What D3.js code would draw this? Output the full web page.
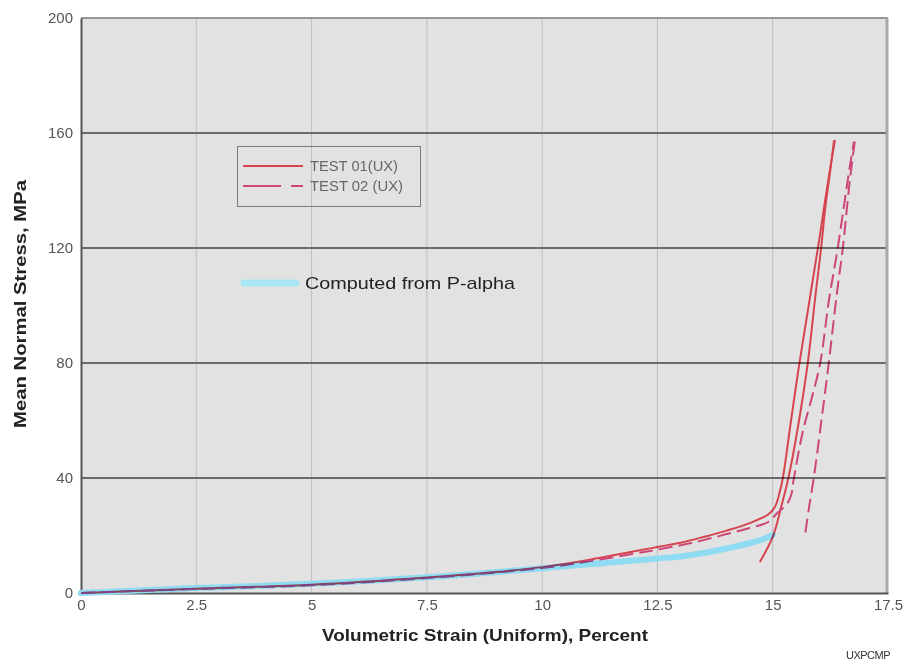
<!DOCTYPE html>
<html>
<head>
<meta charset="utf-8">
<script src="https://cdn.jsdelivr.net/npm/d3@7"></script>
<style>
  html, body { margin: 0; padding: 0; background: #fff; }
  svg { display: block; }
</style>
</head>
<body>
<svg id="chart" width="908" height="664"></svg>
<script>
// Axis ticks
const xTicks = [0, 2.5, 5, 7.5, 10, 12.5, 15, 17.5];
const yTicks = [0, 40, 80, 120, 160, 200];

// TEST 01 (UX): loading branch then unloading branch  [strain %, stress MPa]
const test01Load = [
  [0, 0], [1, 0.6], [2.5, 1.5], [5, 2.9], [7.5, 5.4], [9, 7.3], [10, 9], [11, 11.5],
  [12, 14.5], [12.5, 16], [13, 17.5], [13.5, 19.5], [14, 21.7], [14.5, 24.3],
  [14.9, 27.3], [15.05, 30], [15.15, 35], [15.22, 40], [15.38, 58], [15.56, 78],
  [15.72, 94], [15.88, 110], [16.02, 124], [16.14, 137], [16.25, 148], [16.35, 157.5]
];
const test01Unload = [
  [16.33, 157.5], [16.24, 146], [16.14, 134], [16.05, 120], [15.93, 104],
  [15.76, 80], [15.55, 58], [15.34, 40], [15.2, 31], [15.0, 19.5], [14.72, 10.8]
];

// TEST 02 (UX)
const test02Load = [
  [0, 0], [2.5, 1.4], [5, 2.7], [7.5, 5.2], [10, 8.7], [11, 11], [12, 13.7],
  [12.5, 15.1], [13, 16.6], [13.5, 18.4], [14, 20.5], [14.5, 22.6], [14.9, 24.7],
  [15.1, 27.8], [15.3, 30.8], [15.4, 34], [15.45, 39], [15.65, 56], [15.85, 68],
  [16.03, 80], [16.22, 102], [16.39, 118], [16.54, 134], [16.65, 146], [16.76, 157]
];
const test02Unload = [
  [16.78, 157], [16.69, 146], [16.61, 134], [16.52, 120], [16.39, 104],
  [16.2, 78], [16.04, 58], [15.89, 40], [15.79, 30], [15.7, 20]
];

// Computed from P-alpha
const pAlpha = [
  [0, 0], [2.5, 1.7], [5, 3.2], [7.5, 5.5], [10, 8.6], [11, 10], [12, 11.3],
  [12.5, 12], [13, 12.7], [13.5, 13.9], [14, 15.5], [14.5, 17.3], [14.8, 18.8], [15, 20.2]
];

const legendLabels = ["TEST 01(UX)", "TEST 02 (UX)"];
const computedLabel = "Computed from P-alpha";

const svg = d3.select("#chart");
const x = d3.scaleLinear().domain([0, 17.5]).range([81, 888]);
const y = d3.scaleLinear().domain([0, 200]).range([593, 18]);

// Plot background
svg.append("rect")
  .attr("x", x(0)).attr("y", y(200))
  .attr("width", x(17.5) - x(0)).attr("height", y(0) - y(200))
  .attr("fill", "#e2e2e2");

// Vertical grid (thin, light)
svg.append("g")
  .selectAll("line")
  .data(xTicks.filter(d => d > 0 && d < 17.5))
  .join("line")
  .attr("x1", d => x(d)).attr("x2", d => x(d))
  .attr("y1", y(200)).attr("y2", y(0))
  .attr("stroke", "#bdbdbd").attr("stroke-width", 1);

// Horizontal grid (heavy, dark)
svg.append("g")
  .selectAll("line")
  .data(yTicks.filter(d => d > 0 && d < 200))
  .join("line")
  .attr("x1", x(0)).attr("x2", x(17.5))
  .attr("y1", d => y(d)).attr("y2", d => y(d))
  .attr("stroke", "#6a6a6a").attr("stroke-width", 2);

// Frame
svg.append("line").attr("x1", x(0)).attr("x2", x(17.5)).attr("y1", y(200)).attr("y2", y(200))
  .attr("stroke", "#7a7a7a").attr("stroke-width", 1.5);
svg.append("line").attr("x1", x(17.5) - 1).attr("x2", x(17.5) - 1).attr("y1", y(200)).attr("y2", y(0))
  .attr("stroke", "#a8a8a8").attr("stroke-width", 3);

// Axes
const xAxis = d3.axisBottom(x).tickValues(xTicks).tickSize(0).tickPadding(6)
  .tickFormat(d => d3.format("~g")(d));
const yAxis = d3.axisLeft(y).tickValues(yTicks).tickSize(0).tickPadding(8)
  .tickFormat(d3.format("d"));

const gx = svg.append("g").attr("transform", `translate(0,${y(0)})`).call(xAxis);
const gy = svg.append("g").attr("transform", `translate(${x(0)},0)`).call(yAxis);
[gx, gy].forEach(g => {
  g.select(".domain").attr("stroke", "#555").attr("stroke-width", 2);
  g.selectAll("text")
    .attr("font-family", "Liberation Sans, Arial, sans-serif")
    .attr("font-size", 15)
    .attr("fill", "#555");
});

// Axis titles
svg.append("text")
  .attr("x", 322).attr("y", 641)
  .attr("font-family", "Liberation Sans, Arial, sans-serif")
  .attr("font-weight", "bold").attr("font-size", 17)
  .attr("textLength", 326).attr("lengthAdjust", "spacingAndGlyphs")
  .attr("fill", "#222")
  .text("Volumetric Strain (Uniform), Percent");

svg.append("text")
  .attr("transform", "translate(26,428) rotate(-90)")
  .attr("font-family", "Liberation Sans, Arial, sans-serif")
  .attr("font-weight", "bold").attr("font-size", 17)
  .attr("textLength", 248).attr("lengthAdjust", "spacingAndGlyphs")
  .attr("fill", "#222")
  .text("Mean Normal Stress, MPa");

svg.append("text")
  .attr("x", 846).attr("y", 659)
  .attr("font-family", "Liberation Sans Narrow, Liberation Sans, Arial, sans-serif")
  .attr("font-size", 11).attr("letter-spacing", -0.5)
  .attr("fill", "#333")
  .text("UXPCMP");

// Data curves
const lineX = d3.line().x(d => x(d[0])).y(d => y(d[1])).curve(d3.curveCatmullRom.alpha(0.5));

const plot = svg.append("g");

plot.append("path").datum(pAlpha)
  .attr("d", lineX)
  .attr("fill", "none")
  .attr("stroke", "#8edbf2").attr("stroke-width", 6)
  .attr("stroke-linecap", "round").attr("stroke-linejoin", "round");

// Stroke colours are chosen for multiply blending over the grey field
const red = "#f24d5a";
const pink = "#e84f8a";

const redLines = plot.append("g").style("mix-blend-mode", "multiply");

[test01Load, test01Unload].forEach(data => {
  redLines.append("path").datum(data)
    .attr("d", lineX)
    .attr("fill", "none")
    .attr("stroke", red).attr("stroke-width", 2)
    .attr("stroke-linejoin", "round");
});
[test02Load, test02Unload].forEach(data => {
  redLines.append("path").datum(data)
    .attr("d", lineX)
    .attr("fill", "none")
    .attr("stroke", pink).attr("stroke-width", 2)
    .attr("stroke-dasharray", "14,6")
    .attr("stroke-linejoin", "round");
});

// Legend box
const lg = svg.append("g");
lg.append("rect")
  .attr("x", 237.5).attr("y", 146.5).attr("width", 183).attr("height", 60)
  .attr("fill", "none").attr("stroke", "#7b7b7b").attr("stroke-width", 1);

const legendRows = [
  { label: legendLabels[0], color: "#d9434f", dash: null, yy: 166, w: 88 },
  { label: legendLabels[1], color: "#d0457c", dash: "38,10", yy: 186, w: 93 }
];
legendRows.forEach(r => {
  lg.append("line")
    .attr("x1", 243).attr("x2", 303).attr("y1", r.yy).attr("y2", r.yy)
    .attr("stroke", r.color).attr("stroke-width", 2)
    .attr("stroke-dasharray", r.dash);
  lg.append("text")
    .attr("x", 310).attr("y", r.yy + 5)
    .attr("font-family", "Liberation Sans Narrow, Liberation Sans, Arial, sans-serif")
    .attr("font-size", 15)
    .attr("textLength", r.w).attr("lengthAdjust", "spacingAndGlyphs")
    .attr("fill", "#666")
    .text(r.label);
});

// Computed curve label
svg.append("line")
  .attr("x1", 244).attr("x2", 296).attr("y1", 283).attr("y2", 283)
  .attr("stroke", "#a8e6f6").attr("stroke-width", 7)
  .attr("stroke-linecap", "round");
svg.append("text")
  .attr("x", 305).attr("y", 289)
  .attr("font-family", "Liberation Sans, Arial, sans-serif")
  .attr("font-size", 17)
  .attr("textLength", 210).attr("lengthAdjust", "spacingAndGlyphs")
  .attr("fill", "#222")
  .text(computedLabel);
</script>
</body>
</html>
